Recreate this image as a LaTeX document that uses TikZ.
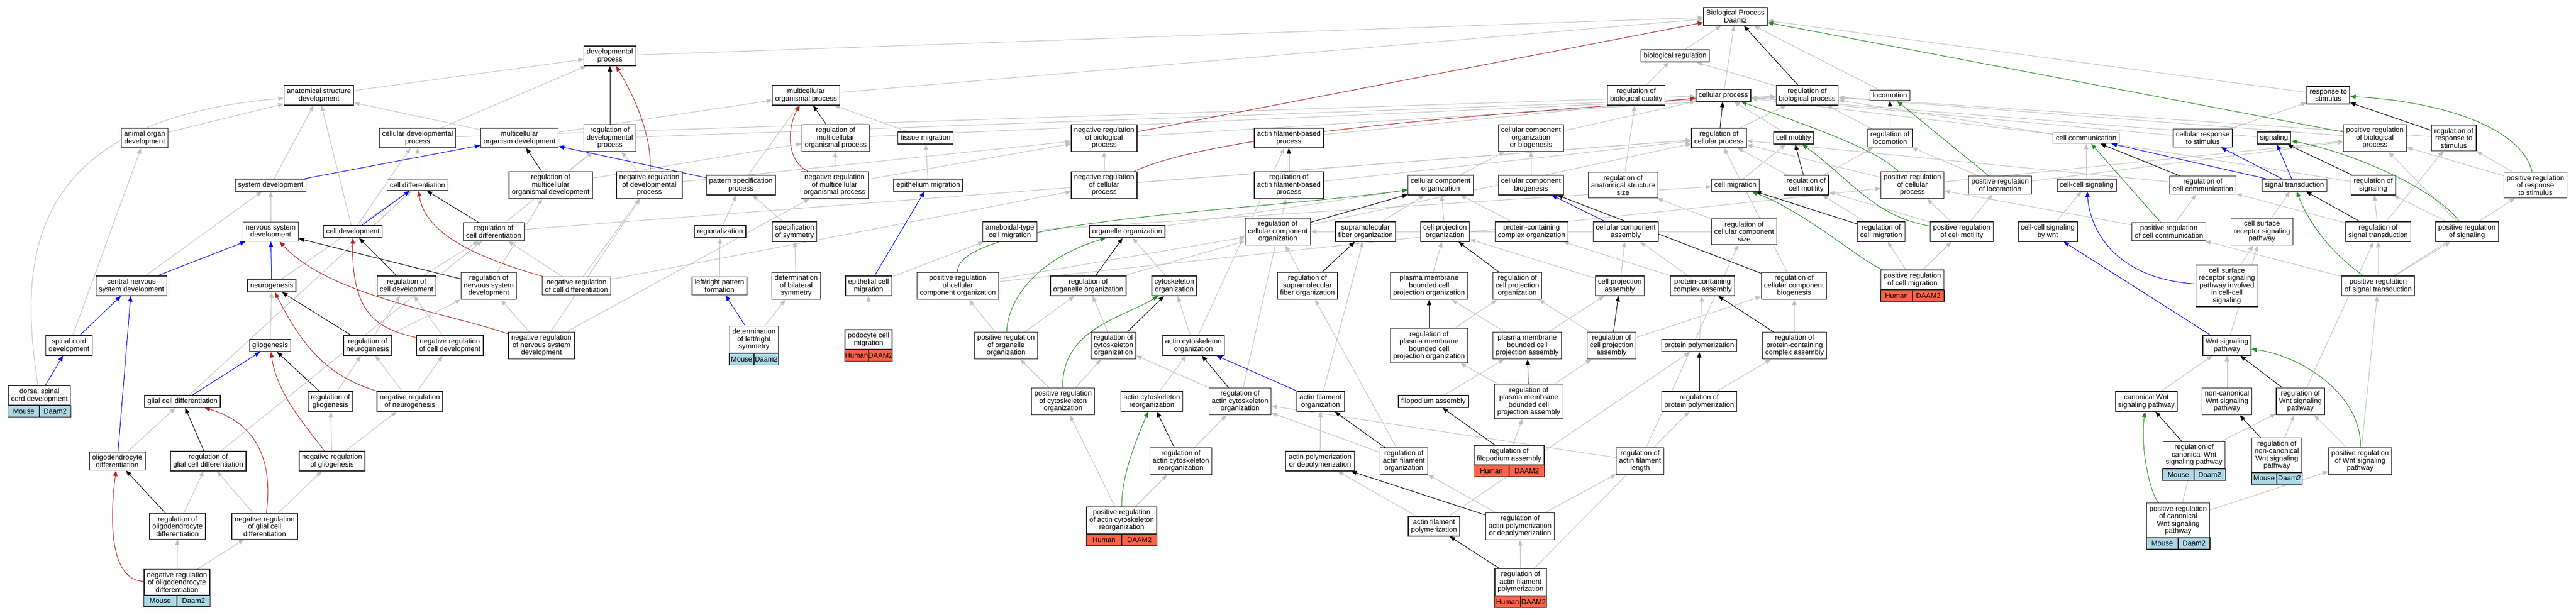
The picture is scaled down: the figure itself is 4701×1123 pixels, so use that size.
\documentclass[tikz,border=0pt]{standalone}
\usepackage{fontspec}
\setmainfont{Liberation Sans}
\usetikzlibrary{arrows.meta,calc}

\definecolor{isagray}{HTML}{C0C0C0}
\definecolor{negred}{HTML}{B22222}
\definecolor{posgreen}{HTML}{228B22}
\definecolor{mouseblue}{HTML}{ADD8E6}
\definecolor{humanred}{HTML}{FF6347}
\pgfdeclarelayer{edges}
\pgfsetlayers{edges,main}

\tikzset{
  term/.style={draw=black!85, line width=1.4pt, fill=white, align=center,
    inner xsep=5pt, inner ysep=5pt, font=\fontsize{13}{13.5}\selectfont},
  tagbox/.style={draw=black!85, line width=1.4pt},
  tagtext/.style={inner sep=0pt, font=\fontsize{13}{13.5}\selectfont},
  link/.style={line width=1pt, -{Triangle[length=10pt,width=8pt]}},
  isa/.style={link, isagray},
  reg/.style={link, black},
  negreg/.style={link, negred},
  posreg/.style={link, posgreen},
  partof/.style={link, blue}
}

\newcommand\genetag[4]{%
  \draw[tagbox,fill=#4] (#1.south west) rectangle ([yshift=-21pt]#1.south);
  \draw[tagbox,fill=#4] (#1.south) rectangle ([yshift=-21pt]#1.south east);
  \node[tagtext] (#1-sp) at ($(#1.south west)!.5!(#1.south)+(0,10.5)$) {#2};
  \node[tagtext] (#1-gn) at ($(#1.south)!.5!(#1.south east)+(0,10.5)$) {#3};}

\begin{document}
\begin{tikzpicture}[x=1pt,y=-1pt]
  \useasboundingbox (0,0) rectangle (4701,1123);

  \node[term] (root) at (3167,30) {Biological Process\\Daam2};

  \node[term] (devproc) at (1113,102) {developmental\\process};
  \node[term] (bioreg) at (3057,102) {biological regulation};

  \node[term] (astdev) at (582,174) {anatomical structure\\development};
  \node[term] (mop) at (1471,174) {multicellular\\organismal process};
  \node[term] (regbq) at (2986,174) {regulation of\\biological quality};
  \node[term] (cellproc) at (3145,174) {cellular process};
  \node[term] (regbp) at (3298,174) {regulation of\\biological process};
  \node[term] (locomotion) at (3449,174) {locomotion};
  \node[term] (response) at (4249,174) {response to\\stimulus};

  \node[term] (aod) at (264,252) {animal organ\\development};
  \node[term] (cdp) at (762,252) {cellular developmental\\process};
  \node[term] (mod) at (948,252) {multicellular\\organism development};
  \node[term] (regdevproc) at (1113,252) {regulation of\\developmental\\process};
  \node[term] (regmop) at (1525,252) {regulation of\\multicellular\\organismal process};
  \node[term] (tissuemig) at (1689,252) {tissue migration};
  \node[term] (negregbp) at (2015,252) {negative regulation\\of biological\\process};
  \node[term] (afbp) at (2352,252) {actin filament-based\\process};
  \node[term] (ccob) at (2794,252) {cellular component\\organization\\or biogenesis};
  \node[term] (regcp) at (3137,252) {regulation of\\cellular process};
  \node[term] (cellmot) at (3273,252) {cell motility};
  \node[term] (regloco) at (3449,252) {regulation of\\locomotion};
  \node[term] (cellcomm) at (3807,252) {cell communication};
  \node[term] (cellresp) at (4020,252) {cellular response\\to stimulus};
  \node[term] (signaling) at (4150,252) {signaling};
  \node[term] (posregbp) at (4334,252) {positive regulation\\of biological\\process};
  \node[term] (regresp) at (4478,252) {regulation of\\response to\\stimulus};

  \node[term] (sysdev) at (494,338) {system development};
  \node[term] (celldiff) at (762,338) {cell differentiation};
  \node[term] (regmod) at (1005,338) {regulation of\\multicellular\\organismal development};
  \node[term] (negregdevproc) at (1185,338) {negative regulation\\of developmental\\process};
  \node[term] (patspec) at (1352,338) {pattern specification\\process};
  \node[term] (negregmop) at (1523,338) {negative regulation\\of multicellular\\organismal process};
  \node[term] (epimig) at (1694,338) {epithelium migration};
  \node[term] (negregcp) at (2015,338) {negative regulation\\of cellular\\process};
  \node[term] (regafbp) at (2352,338) {regulation of\\actin filament-based\\process};
  \node[term] (ccorg) at (2629,338) {cellular component\\organization};
  \node[term] (ccbio) at (2794,338) {cellular component\\biogenesis};
  \node[term] (regass) at (2962,338) {regulation of\\anatomical structure\\size};
  \node[term] (cellmig) at (3167,338) {cell migration};
  \node[term] (regcellmot) at (3296,338) {regulation of\\cell motility};
  \node[term] (posregcp) at (3490,338) {positive regulation\\of cellular\\process};
  \node[term] (posregloco) at (3650,338) {positive regulation\\of locomotion};
  \node[term] (ccsig) at (3808,338) {cell-cell signaling};
  \node[term] (regcellcomm) at (4020,338) {regulation of\\cell communication};
  \node[term] (sigtrans) at (4187,338) {signal transduction};
  \node[term] (regsig) at (4331,338) {regulation of\\signaling};
  \node[term] (posregresp) at (4627,338) {positive regulation\\of response\\to stimulus};

  \node[term] (nsd) at (494,423) {nervous system\\development};
  \node[term] (celldev) at (644,423) {cell development};
  \node[term] (regcelldiff) at (901,423) {regulation of\\cell differentiation};
  \node[term] (regionalization) at (1314,423) {regionalization};
  \node[term] (specsym) at (1450,423) {specification\\of symmetry};
  \node[term] (ameboid) at (1843,423) {ameboidal-type\\cell migration};
  \node[term] (organelle) at (2057,423) {organelle organization};
  \node[term] (regccorg) at (2332,423) {regulation of\\cellular component\\organization};
  \node[term] (supra) at (2492,423) {supramolecular\\fiber organization};
  \node[term] (cpo) at (2637,423) {cell projection\\organization};
  \node[term] (pcco) at (2795,423) {protein-containing\\complex organization};
  \node[term] (ccass) at (2967,423) {cellular component\\assembly};
  \node[term] (regccsize) at (3183,423) {regulation of\\cellular component\\size};
  \node[term] (regcellmig) at (3433,423) {regulation of\\cell migration};
  \node[term] (posregcellmot) at (3580,423) {positive regulation\\of cell motility};
  \node[term] (ccsigwnt) at (3737,423) {cell-cell signaling\\by wnt};
  \node[term] (posregcellcomm) at (3958,423) {positive regulation\\of cell communication};
  \node[term] (csrsp) at (4128,423) {cell surface\\receptor signaling\\pathway};
  \node[term] (regsigtrans) at (4340,423) {regulation of\\signal transduction};
  \node[term] (posregsig) at (4502,423) {positive regulation\\of signaling};

  \node[term] (cnsd) at (240,522) {central nervous\\system development};
  \node[term] (neurog) at (496,522) {neurogenesis};
  \node[term] (regcelldev) at (742,522) {regulation of\\cell development};
  \node[term] (regnsd) at (892,522) {regulation of\\nervous system\\development};
  \node[term] (negregcelldiff) at (1052,522) {negative regulation\\of cell differentiation};
  \node[term] (lrpf) at (1313,522) {left/right pattern\\formation};
  \node[term] (detbil) at (1453,522) {determination\\of bilateral\\symmetry};
  \node[term] (epicellmig) at (1585,522) {epithelial cell\\migration};
  \node[term] (posregccorg) at (1748,522) {positive regulation\\of cellular\\component organization};
  \node[term] (regorg) at (1986,522) {regulation of\\organelle organization};
  \node[term] (cytoorg) at (2143,522) {cytoskeleton\\organization};
  \node[term] (regsupra) at (2386,522) {regulation of\\supramolecular\\fiber organization};
  \node[term] (pmbcpo) at (2608,522) {plasma membrane\\bounded cell\\projection organization};
  \node[term] (regcpo) at (2769,522) {regulation of\\cell projection\\organization};
  \node[term] (cpa) at (2956,522) {cell projection\\assembly};
  \node[term] (pcca) at (3107,522) {protein-containing\\complex assembly};
  \node[term] (regccbio) at (3274,522) {regulation of\\cellular component\\biogenesis};
  \node[term] (posregcellmig) at (3490,511) {positive regulation\\of cell migration};
  \genetag{posregcellmig}{Human}{DAAM2}{humanred}
  \node[term] (csrspcc) at (4064,522) {cell surface\\receptor signaling\\pathway involved\\in cell-cell\\signaling};
  \node[term] (posregsigtrans) at (4340,522) {positive regulation\\of signal transduction};

  \node[term] (spinal) at (126,631) {spinal cord\\development};
  \node[term] (glio) at (493,631) {gliogenesis};
  \node[term] (regneurog) at (671,631) {regulation of\\neurogenesis};
  \node[term] (negregcelldev) at (821,631) {negative regulation\\of cell development};
  \node[term] (negregnsd) at (988,631) {negative regulation\\of nervous system\\development};
  \node[term] (detlr) at (1376,620) {determination\\of left/right\\symmetry};
  \genetag{detlr}{Mouse}{Daam2}{mouseblue}
  \node[term] (podocyte) at (1585,620) {podocyte cell\\migration};
  \genetag{podocyte}{Human}{DAAM2}{humanred}
  \node[term] (posregorg) at (1836,631) {positive regulation\\of organelle\\organization};
  \node[term] (regcytoorg) at (2032,631) {regulation of\\cytoskeleton\\organization};
  \node[term] (actcytoorg) at (2178,631) {actin cytoskeleton\\organization};
  \node[term] (regpmbcpo) at (2608,631) {regulation of\\plasma membrane\\bounded cell\\projection organization};
  \node[term] (pmbcpa) at (2787,631) {plasma membrane\\bounded cell\\projection assembly};
  \node[term] (regcpa) at (2941,631) {regulation of\\cell projection\\assembly};
  \node[term] (protpol) at (3101,631) {protein polymerization};
  \node[term] (regpcca) at (3275,631) {regulation of\\protein-containing\\complex assembly};
  \node[term] (wnt) at (4064,631) {Wnt signaling\\pathway};

  \node[term] (dorsal) at (72,722) {dorsal spinal\\cord development};
  \genetag{dorsal}{Mouse}{Daam2}{mouseblue}
  \node[term] (gcd) at (333,733) {glial cell differentiation};
  \node[term] (regglio) at (603,733) {regulation of\\gliogenesis};
  \node[term] (negregneurog) at (748,733) {negative regulation\\of neurogenesis};
  \node[term] (posregcytoorg) at (1940,733) {positive regulation\\of cytoskeleton\\organization};
  \node[term] (actcytoreorg) at (2102,733) {actin cytoskeleton\\reorganization};
  \node[term] (regactcytoorg) at (2263,733) {regulation of\\actin cytoskeleton\\organization};
  \node[term] (actfilorg) at (2410,733) {actin filament\\organization};
  \node[term] (filoass) at (2616,733) {filopodium assembly};
  \node[term] (regpmbcpa) at (2790,733) {regulation of\\plasma membrane\\bounded cell\\projection assembly};
  \node[term] (regprotpol) at (3101,733) {regulation of\\protein polymerization};
  \node[term] (canwnt) at (3917,733) {canonical Wnt\\signaling pathway};
  \node[term] (noncanwnt) at (4064,733) {non-canonical\\Wnt signaling\\pathway};
  \node[term] (regwnt) at (4198,733) {regulation of\\Wnt signaling\\pathway};

  \node[term] (oligo) at (214,842) {oligodendrocyte\\differentiation};
  \node[term] (reggcd) at (380,842) {regulation of\\glial cell differentiation};
  \node[term] (negregglio) at (606,842) {negative regulation\\of gliogenesis};
  \node[term] (regactcytoreorg) at (2155,842) {regulation of\\actin cytoskeleton\\reorganization};
  \node[term] (actpoldepol) at (2409,842) {actin polymerization\\or depolymerization};
  \node[term] (regactfilorg) at (2562,842) {regulation of\\actin filament\\organization};
  \node[term] (regfiloass) at (2754,831) {regulation of\\filopodium assembly};
  \genetag{regfiloass}{Human}{DAAM2}{humanred}
  \node[term] (regaflen) at (2993,842) {regulation of\\actin filament\\length};
  \node[term] (regcanwnt) at (4004,831) {regulation of\\canonical Wnt\\signaling pathway};
  \genetag{regcanwnt}{Mouse}{Daam2}{mouseblue}
  \node[term] (regnoncanwnt) at (4155,831) {regulation of\\non-canonical\\Wnt signaling\\pathway};
  \genetag{regnoncanwnt}{Mouse}{Daam2}{mouseblue}
  \node[term] (posregwnt) at (4307,842) {positive regulation\\of Wnt signaling\\pathway};

  \node[term] (regoligo) at (324,961) {regulation of\\oligodendrocyte\\differentiation};
  \node[term] (negreggcd) at (483,961) {negative regulation\\of glial cell\\differentiation};
  \node[term] (posregactcytoreorg) at (2047,950) {positive regulation\\of actin cytoskeleton\\reorganization};
  \genetag{posregactcytoreorg}{Human}{DAAM2}{humanred}
  \node[term] (afpol) at (2617,961) {actin filament\\polymerization};
  \node[term] (regactpol) at (2774,961) {regulation of\\actin polymerization\\or depolymerization};
  \node[term] (posregcanwnt) at (3975,950) {positive regulation\\of canonical\\Wnt signaling\\pathway};
  \genetag{posregcanwnt}{Mouse}{Daam2}{mouseblue}

  \node[term] (negregoligo) at (323,1063) {negative regulation\\of oligodendrocyte\\differentiation};
  \genetag{negregoligo}{Mouse}{Daam2}{mouseblue}
  \node[term] (regafpol) at (2775,1063) {regulation of\\actin filament\\polymerization};
  \genetag{regafpol}{Human}{DAAM2}{humanred}

  \begin{pgfonlayer}{edges}
  % is_a
  \draw[isa] (astdev) -- (devproc);
  \draw[isa] (mod) -- (astdev);
  \draw[isa] (aod) -- (astdev);
  \draw[isa] (dorsal) .. controls (35,480) and (40,220) .. (astdev);
  \draw[isa] (sysdev) -- (astdev);
  \draw[isa] (celldev) -- (astdev);
  \draw[isa] (celldev) -- (cdp);
  \draw[isa] (celldiff) -- (cdp);
  \draw[isa] (cnsd) -- (sysdev);
  \draw[isa] (nsd) -- (sysdev);
  \draw[isa] (gcd) -- (celldiff);
  \draw[isa] (neurog) -- (celldiff);
  \draw[isa] (reggcd) -- (regcelldiff);
  \draw[isa] (regcelldev) -- (regcelldiff);
  \draw[isa] (glio) -- (neurog);
  \draw[isa] (regneurog) -- (regcelldev);
  \draw[isa] (negregcelldev) -- (regcelldev);
  \draw[isa] (regneurog) -- (regnsd);
  \draw[isa] (spinal) -- (aod);
  \draw[isa] (oligo) -- (gcd);
  \draw[isa] (regglio) -- (regneurog);
  \draw[isa] (negregneurog) -- (regneurog);
  \draw[isa] (negregneurog) -- (negregcelldev);
  \draw[isa] (negregglio) -- (regglio);
  \draw[isa] (negregglio) -- (negregneurog);
  \draw[isa] (regoligo) -- (reggcd);
  \draw[isa] (negreggcd) -- (reggcd);
  \draw[isa] (negreggcd) -- (negregglio);
  \draw[isa] (negregoligo) -- (regoligo);
  \draw[isa] (negregoligo) -- (negreggcd);
  \draw[isa] (devproc) -- (root);
  \draw[isa] (mop) -- (root);
  \draw[isa] (cdp) -- (devproc);
  \draw[isa] (mod) -- (mop);
  \draw[isa] (negregdevproc) -- (regdevproc);
  \draw[isa] (regmod) -- (regdevproc);
  \draw[isa] (regmod) -- (regmop);
  \draw[isa] (patspec) -- (mop);
  \draw[isa] (regmop) -- (regbp);
  \draw[isa] (tissuemig) -- (mop);
  \draw[isa] (negregmop) -- (regmop);
  \draw[isa] (negregmop) -- (negregbp);
  \draw[isa] (regdevproc) -- (regbp);
  \draw[isa] (cdp) -- (cellproc);
  \draw[isa] (regcelldiff) -- (regdevproc);
  \draw[isa] (regcelldiff) -- (regcp);
  \draw[isa] (regnsd) -- (regmod);
  \draw[isa] (negregnsd) -- (regnsd);
  \draw[isa] (negregcelldiff) -- (regcelldiff);
  \draw[isa] (negregcelldiff) -- (negregdevproc);
  \draw[isa] (negregcelldiff) -- (negregcp);
  \draw[isa] (negregnsd) -- (negregdevproc);
  \draw[isa] (negregnsd) -- (negregmop);
  \draw[isa] (regionalization) -- (patspec);
  \draw[isa] (specsym) -- (patspec);
  \draw[isa] (lrpf) -- (regionalization);
  \draw[isa] (detbil) -- (specsym);
  \draw[isa] (detlr) -- (detbil);
  \draw[isa] (podocyte) -- (epicellmig);
  \draw[isa] (epicellmig) -- (ameboid);
  \draw[isa] (epimig) -- (tissuemig);
  \draw[isa] (negregdevproc) -- (negregbp);
  \draw[isa] (negregbp) -- (regbp);
  \draw[isa] (negregcp) -- (negregbp);
  \draw[isa] (negregcp) -- (regcp);
  \draw[isa] (afbp) -- (cellproc);
  \draw[isa] (regafbp) -- (regcp);
  \draw[isa] (ameboid) -- (cellmig);
  \draw[isa] (organelle) -- (ccorg);
  \draw[isa] (regorg) -- (regccorg);
  \draw[isa] (cytoorg) -- (organelle);
  \draw[isa] (posregccorg) -- (regccorg);
  \draw[isa] (posregccorg) -- (posregcp);
  \draw[isa] (regccorg) -- (regcp);
  \draw[isa] (regsupra) -- (regccorg);
  \draw[isa] (actcytoorg) -- (cytoorg);
  \draw[isa] (actcytoorg) -- (afbp);
  \draw[isa] (regactcytoorg) -- (regafbp);
  \draw[isa] (posregorg) -- (posregccorg);
  \draw[isa] (posregorg) -- (regorg);
  \draw[isa] (posregcytoorg) -- (posregorg);
  \draw[isa] (posregcytoorg) -- (regcytoorg);
  \draw[isa] (regcytoorg) -- (regorg);
  \draw[isa] (actcytoreorg) -- (actcytoorg);
  \draw[isa] (regactcytoorg) -- (regcytoorg);
  \draw[isa] (regactcytoreorg) -- (regactcytoorg);
  \draw[isa] (posregactcytoreorg) -- (posregcytoorg);
  \draw[isa] (posregactcytoreorg) -- (regactcytoreorg);
  \draw[isa] (regactfilorg) -- (regactcytoorg);
  \draw[isa] (regaflen) -- (regactcytoorg);
  \draw[isa] (bioreg) -- (root);
  \draw[isa] (cellproc) -- (root);
  \draw[isa] (locomotion) -- (root);
  \draw[isa] (response) -- (root);
  \draw[isa] (regbq) -- (bioreg);
  \draw[isa] (regbp) -- (bioreg);
  \draw[isa] (regass) -- (regbq);
  \draw[isa] (ccob) -- (cellproc);
  \draw[isa] (ccorg) -- (ccob);
  \draw[isa] (ccbio) -- (ccob);
  \draw[isa] (regcp) -- (regbp);
  \draw[isa] (cellmig) -- (cellmot);
  \draw[isa] (supra) -- (ccorg);
  \draw[isa] (cpo) -- (ccorg);
  \draw[isa] (pcco) -- (ccorg);
  \draw[isa] (pmbcpo) -- (cpo);
  \draw[isa] (pcca) -- (pcco);
  \draw[isa] (cpa) -- (ccass);
  \draw[isa] (pcca) -- (ccass);
  \draw[isa] (cpa) -- (cpo);
  \draw[isa] (actfilorg) -- (supra);
  \draw[isa] (regccsize) -- (regass);
  \draw[isa] (regccsize) -- (regccorg);
  \draw[isa] (pmbcpa) -- (pmbcpo);
  \draw[isa] (regpmbcpo) -- (regcpo);
  \draw[isa] (regcpa) -- (regcpo);
  \draw[isa] (pmbcpa) -- (cpa);
  \draw[isa] (protpol) -- (pcca);
  \draw[isa] (regaflen) -- (regccsize);
  \draw[isa] (regprotpol) -- (regpcca);
  \draw[isa] (regafpol) -- (regprotpol);
  \draw[isa] (regactpol) -- (regactfilorg);
  \draw[isa] (regactpol) -- (regaflen);
  \draw[isa] (afpol) -- (actpoldepol);
  \draw[isa] (afpol) -- (protpol);
  \draw[isa] (regafpol) -- (regactpol);
  \draw[isa] (regfiloass) -- (regpmbcpa);
  \draw[isa] (filoass) -- (pmbcpa);
  \draw[isa] (regpmbcpa) -- (regpmbcpo);
  \draw[isa] (regpmbcpa) -- (regcpa);
  \draw[isa] (regactfilorg) -- (regsupra);
  \draw[isa] (actpoldepol) -- (actfilorg);
  \draw[isa] (regloco) -- (regbp);
  \draw[isa] (posregloco) -- (regloco);
  \draw[isa] (posregloco) -- (posregbp);
  \draw[isa] (cellmot) -- (cellproc);
  \draw[isa] (regcellmot) -- (regloco);
  \draw[isa] (regcellmot) -- (regcp);
  \draw[isa] (posregcellmot) -- (regcellmot);
  \draw[isa] (posregcellmot) -- (posregcp);
  \draw[isa] (posregcellmot) -- (posregloco);
  \draw[isa] (regcellmig) -- (regcellmot);
  \draw[isa] (posregcellmig) -- (regcellmig);
  \draw[isa] (posregcellmig) -- (posregcellmot);
  \draw[isa] (posregcp) -- (regcp);
  \draw[isa] (posregcp) -- (posregbp);
  \draw[isa] (cellcomm) -- (cellproc);
  \draw[isa] (ccsig) -- (cellcomm);
  \draw[isa] (ccsigwnt) -- (ccsig);
  \draw[isa] (posregcellcomm) -- (regcellcomm);
  \draw[isa] (posregcellcomm) -- (posregcp);
  \draw[isa] (cellresp) -- (cellproc);
  \draw[isa] (cellresp) -- (response);
  \draw[isa] (signaling) -- (cellproc);
  \draw[isa] (csrsp) -- (sigtrans);
  \draw[isa] (regsigtrans) -- (regsig);
  \draw[isa] (regsigtrans) -- (regcellcomm);
  \draw[isa] (regsigtrans) -- (regresp);
  \draw[isa] (posregsig) -- (regsig);
  \draw[isa] (posregsig) -- (posregbp);
  \draw[isa] (regsig) -- (regbp);
  \draw[isa] (posregresp) -- (regresp);
  \draw[isa] (posregresp) -- (posregbp);
  \draw[isa] (regresp) -- (regbp);
  \draw[isa] (posregbp) -- (regbp);
  \draw[isa] (posregsigtrans) -- (regsigtrans);
  \draw[isa] (posregsigtrans) -- (posregsig);
  \draw[isa] (posregsigtrans) -- (posregcellcomm);
  \draw[isa] (posregsigtrans) -- (posregresp);
  \draw[isa] (csrspcc) -- (csrsp);
  \draw[isa] (wnt) -- (csrsp);
  \draw[isa] (canwnt) -- (wnt);
  \draw[isa] (noncanwnt) -- (wnt);
  \draw[isa] (regwnt) -- (regsigtrans);
  \draw[isa] (posregwnt) -- (posregsigtrans);
  \draw[isa] (posregwnt) -- (regwnt);
  \draw[isa] (regcanwnt) -- (regwnt);
  \draw[isa] (regnoncanwnt) -- (regwnt);
  \draw[isa] (posregcanwnt) -- (regcanwnt);
  \draw[isa] (posregcanwnt) -- (posregwnt);
  \draw[isa] (regcellcomm) -- (regcp);
  \draw[isa] (regccbio) -- (regcp);
  \draw[isa] (regpcca) -- (regccbio);
  \draw[isa] (regcpa) -- (regccbio);
  % regulates
  \draw[reg] (regcelldiff) -- (celldiff);
  \draw[reg] (regnsd) -- (nsd);
  \draw[reg] (regcelldev) -- (celldev);
  \draw[reg] (regneurog) -- (neurog);
  \draw[reg] (regglio) -- (glio);
  \draw[reg] (reggcd) -- (gcd);
  \draw[reg] (regoligo) -- (oligo);
  \draw[reg] (regdevproc) -- (devproc);
  \draw[reg] (regmod) -- (mod);
  \draw[reg] (regmop) -- (mop);
  \draw[reg] (regafbp) -- (afbp);
  \draw[reg] (regorg) -- (organelle);
  \draw[reg] (regccorg) -- (ccorg);
  \draw[reg] (regcytoorg) -- (cytoorg);
  \draw[reg] (regactcytoorg) -- (actcytoorg);
  \draw[reg] (regactcytoreorg) -- (actcytoreorg);
  \draw[reg] (regbp) -- (root);
  \draw[reg] (regcp) -- (cellproc);
  \draw[reg] (regsupra) -- (supra);
  \draw[reg] (regcpo) -- (cpo);
  \draw[reg] (regccbio) -- (ccbio);
  \draw[reg] (regpmbcpo) -- (pmbcpo);
  \draw[reg] (regcpa) -- (cpa);
  \draw[reg] (regpcca) -- (pcca);
  \draw[reg] (regprotpol) -- (protpol);
  \draw[reg] (regactpol) -- (actpoldepol);
  \draw[reg] (regafpol) -- (afpol);
  \draw[reg] (regfiloass) -- (filoass);
  \draw[reg] (regpmbcpa) -- (pmbcpa);
  \draw[reg] (regactfilorg) -- (actfilorg);
  \draw[reg] (regloco) -- (locomotion);
  \draw[reg] (regcellmot) -- (cellmot);
  \draw[reg] (regcellmig) -- (cellmig);
  \draw[reg] (regcellcomm) -- (cellcomm);
  \draw[reg] (regsigtrans) -- (sigtrans);
  \draw[reg] (regsig) -- (signaling);
  \draw[reg] (regresp) -- (response);
  \draw[reg] (regwnt) -- (wnt);
  \draw[reg] (regcanwnt) -- (canwnt);
  \draw[reg] (regnoncanwnt) -- (noncanwnt);
  % negatively regulates
  \draw[negreg] (negregcelldiff) .. controls (850,465) and (775,420) .. (celldiff);
  \draw[negreg] (negregnsd) .. controls (820,572) and (600,540) .. (nsd);
  \draw[negreg] (negregcelldev) .. controls (690,600) and (641,575) .. (celldev);
  \draw[negreg] (negregneurog) .. controls (610,690) and (560,650) .. (neurog);
  \draw[negreg] (negregglio) .. controls (560,780) and (505,720) .. (glio);
  \draw[negreg] (negreggcd) .. controls (500,830) and (460,770) .. (gcd);
  \draw[negreg] (negregoligo) .. controls (200,1060) and (200,950) .. (oligo);
  \draw[negreg] (negregdevproc) .. controls (1190,250) and (1160,180) .. (devproc);
  \draw[negreg] (negregmop) .. controls (1430,290) and (1440,225) .. (mop);
  \draw[negreg] (negregbp) -- (root);
  \draw[negreg] (negregcp) .. controls (2250,230) and (2900,200) .. (cellproc);
  % positively regulates
  \draw[posreg] (posregorg) .. controls (1840,540) and (1900,470) .. (organelle);
  \draw[posreg] (posregccorg) .. controls (1745,400) and (2300,385) .. (ccorg);
  \draw[posreg] (posregcytoorg) .. controls (1937,600) and (2050,580) .. (cytoorg);
  \draw[posreg] (posregactcytoreorg) .. controls (2047,860) and (2080,790) .. (actcytoreorg);
  \draw[posreg] (posregcellmig) .. controls (3400,480) and (3300,390) .. (cellmig);
  \draw[posreg] (posregcp) .. controls (3420,270) and (3300,230) .. (cellproc);
  \draw[posreg] (posregloco) -- (locomotion);
  \draw[posreg] (posregcellmot) .. controls (3420,395) and (3380,330) .. (cellmot);
  \draw[posreg] (posregcellcomm) -- (cellcomm);
  \draw[posreg] (posregsigtrans) .. controls (4250,460) and (4210,400) .. (sigtrans);
  \draw[posreg] (posregsig) .. controls (4440,340) and (4280,275) .. (signaling);
  \draw[posreg] (posregresp) .. controls (4600,230) and (4450,185) .. (response);
  \draw[posreg] (posregbp) -- (root);
  \draw[posreg] (posregwnt) .. controls (4310,720) and (4200,650) .. (wnt);
  \draw[posreg] (posregcanwnt) .. controls (3925,905) and (3905,820) .. (canwnt);
  % part_of
  \draw[partof] (sysdev) -- (mod);
  \draw[partof] (celldev) -- (celldiff);
  \draw[partof] (cnsd) -- (nsd);
  \draw[partof] (neurog) -- (nsd);
  \draw[partof] (spinal) -- (cnsd);
  \draw[partof] (oligo) -- (cnsd);
  \draw[partof] (dorsal) -- (spinal);
  \draw[partof] (gcd) -- (glio);
  \draw[partof] (patspec) -- (mod);
  \draw[partof] (detlr) -- (lrpf);
  \draw[partof] (epicellmig) -- (epimig);
  \draw[partof] (actfilorg) -- (actcytoorg);
  \draw[partof] (ccass) -- (ccbio);
  \draw[partof] (sigtrans) -- (cellcomm);
  \draw[partof] (sigtrans) -- (cellresp);
  \draw[partof] (sigtrans) -- (signaling);
  \draw[partof] (csrspcc) .. controls (3870,510) and (3815,430) .. (ccsig);
  \draw[partof] (wnt) -- (ccsigwnt);
  \end{pgfonlayer}
\end{tikzpicture}
\end{document}
